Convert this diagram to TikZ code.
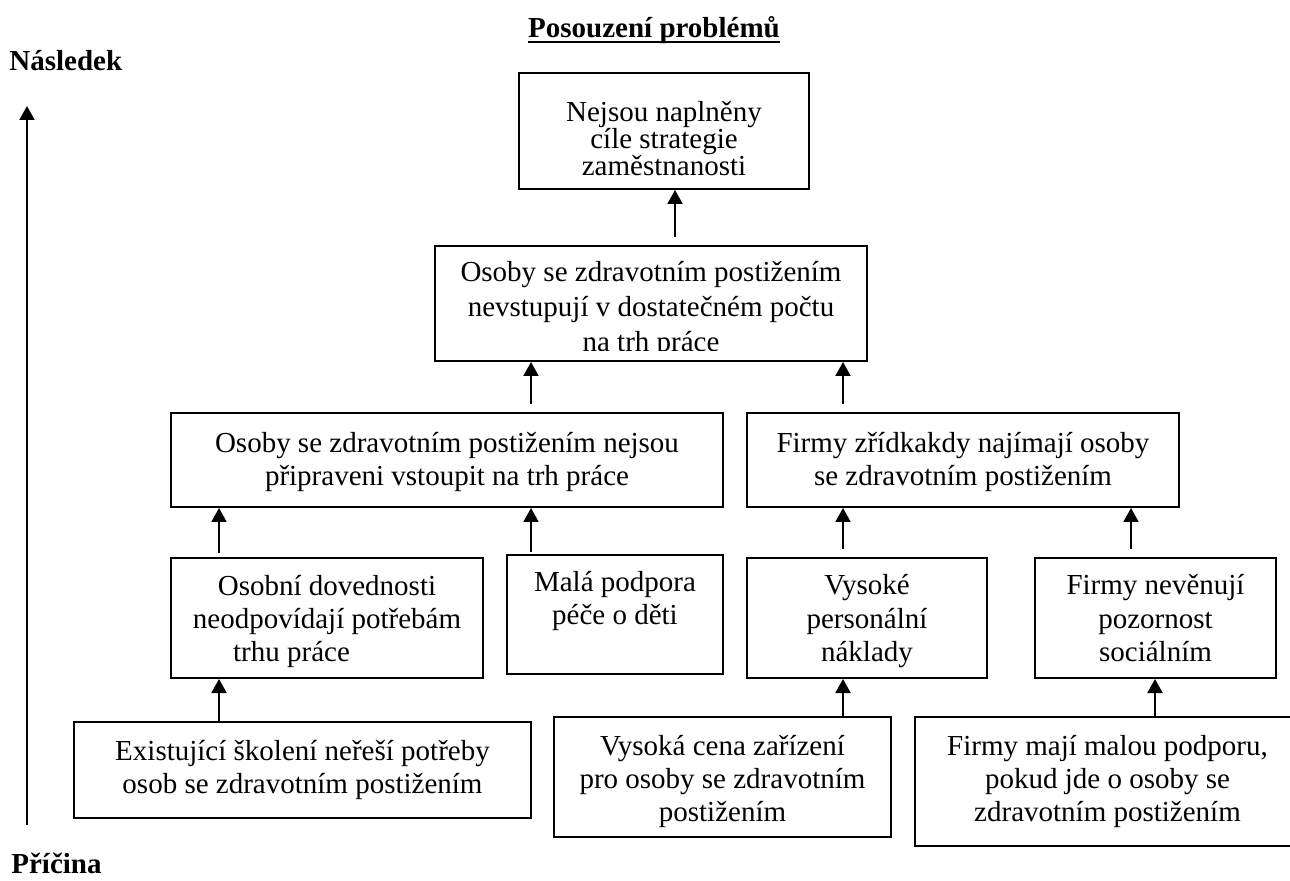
\documentclass[tikz,border=0pt]{standalone}
\usepackage{fontspec}
\setmainfont{Liberation Serif}
\usetikzlibrary{arrows.meta,calc}
\newcommand\bxt[3]{\parbox[t]{#1}{\centering\fontsize{14.5pt}{#2}\selectfont\lineskiplimit=-\maxdimen\relax #3}}
\begin{document}
\begin{tikzpicture}[x=0.5pt,y=-0.5pt,
  box/.style={draw, line width=1pt, inner sep=0pt, anchor=north},
  arr/.style={line width=1pt, -{Triangle[length=7pt,width=7.5pt]}},
  lbl/.style={inner sep=0pt, font=\fontsize{14.5pt}{17pt}\selectfont\bfseries}]
\useasboundingbox (0,0) rectangle (1290,881);
\clip (0,0) rectangle (1290,881);

% labels
\node[lbl, anchor=base] (title) at (654,38) {Posouzení problémů};
\draw[line width=1pt] ($(title.base west)+(0,4)$) -- ($(title.base east)+(0,4)$);
\node[lbl, anchor=base west] (nasl) at (9,71) {Následek};
\node[lbl, anchor=base west] (pric) at (11,873) {Příčina};

% boxes
\node[box, minimum width=145pt, text height=24.5pt, text depth=33.5pt] (A) at (664,72)
  {\bxt{140pt}{13.5pt}{Nejsou naplněny\\cíle strategie\\zaměstnanosti}};
\node[box, minimum width=216pt, text height=18pt, text depth=39.5pt] (B) at (651,245)
  {\bxt{210pt}{17.5pt}{Osoby se zdravotním postižením\\nevstupují v dostatečném počtu\\na trh práce}};
\fill[white] (437,351) rectangle (865,359);
\node[box, minimum width=276pt, text height=20pt, text depth=27pt] (C) at (447,412)
  {\bxt{270pt}{16.5pt}{Osoby se zdravotním postižením nejsou\\připraveni vstoupit na trh práce}};
\node[box, minimum width=216pt, text height=20pt, text depth=27pt] (E) at (963,412)
  {\bxt{210pt}{16.5pt}{Firmy zřídkakdy najímají osoby\\se zdravotním postižením}};
\node[box, minimum width=156pt, text height=19pt, text depth=41pt] (D) at (327,557)
  {\bxt{150pt}{16.5pt}{Osobní dovednosti\\neodpovídají potřebám\\trhu práce\hspace*{35.5pt}}};
\node[box, minimum width=108pt, text height=18.5pt, text depth=41pt] (F) at (615,554)
  {\bxt{104pt}{16.5pt}{Malá podpora\\péče o děti}};
\node[box, minimum width=120pt, text height=18.5pt, text depth=41.5pt] (G) at (867,557)
  {\bxt{114pt}{16.75pt}{Vysoké\\personální\\náklady}};
\node[box, minimum width=120.5pt, text height=18.5pt, text depth=41.5pt] (H) at (1155.5,557)
  {\bxt{115pt}{16.75pt}{Firmy nevěnují\\pozornost\\sociálním}};
\node[box, minimum width=228.5pt, text height=19pt, text depth=29pt] (K) at (302.5,721)
  {\bxt{222pt}{16.5pt}{Existující školení neřeší potřeby\\osob se zdravotním postižením}};
\node[box, minimum width=168.5pt, text height=19pt, text depth=41pt] (I) at (722.5,716)
  {\bxt{162pt}{16.5pt}{Vysoká cena zařízení\\pro osoby se zdravotním\\postižením}};
\node[box, minimum width=192.5pt, text height=19pt, text depth=45.5pt] (J) at (1107.5,716)
  {\bxt{186pt}{16.5pt}{Firmy mají malou podporu,\\pokud jde o osoby se\\zdravotním postižením}};

% connectors
\draw[arr] ($(B.north -| 675,0)+(0,-8)$) -- (A.south -| 675,0);
\draw[arr] ($(C.north -| 531,0)+(0,-8)$) -- (B.south -| 531,0);
\draw[arr] ($(E.north -| 843,0)+(0,-8)$) -- (B.south -| 843,0);
\draw[arr] ($(D.north -| 219,0)+(0,-4)$) -- (C.south -| 219,0);
\draw[arr] ($(F.north -| 531,0)+(0,-2)$) -- (C.south -| 531,0);
\draw[arr] ($(G.north -| 843,0)+(0,-8)$) -- (E.south -| 843,0);
\draw[arr] ($(H.north -| 1131,0)+(0,-8)$) -- (E.south -| 1131,0);
\draw[arr] (K.north -| 219,0) -- (D.south -| 219,0);
\draw[arr] (I.north -| 843,0) -- (G.south -| 843,0);
\draw[arr] (J.north -| 1155,0) -- (H.south -| 1155,0);

% cause-effect axis
\coordinate (axb) at (27,825);
\coordinate (axt) at (27,106);
\draw[arr] (axb) -- (axt);
\end{tikzpicture}
\end{document}
